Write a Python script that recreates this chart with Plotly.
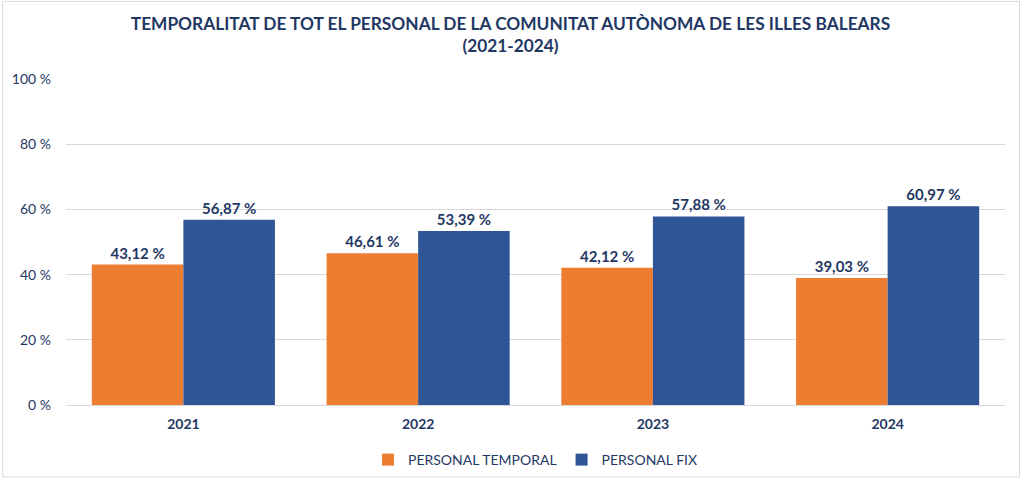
import plotly.graph_objects as go

years = ["2021", "2022", "2023", "2024"]
temporal = [43.12, 46.61, 42.12, 39.03]
fix = [56.87, 53.39, 57.88, 60.97]
y_ticks = [0, 20, 40, 60, 80, 100]

NAVY = "#1F3864"
FONT = "Lato, 'Open Sans', sans-serif"


def fmt(v):
    return f"{v:.2f}".replace(".", ",") + " %"


fig = go.Figure()
fig.add_trace(go.Bar(
    x=years, y=temporal, name="PERSONAL TEMPORAL",
    marker=dict(color="#ED7D31", line=dict(width=0)),
    text=[fmt(v) for v in temporal], textposition="outside",
    textfont=dict(color=NAVY, size=15, family=FONT, weight="bold"),
    cliponaxis=False,
))
fig.add_trace(go.Bar(
    x=years, y=fix, name="PERSONAL FIX",
    marker=dict(color="#2F5597", line=dict(width=0)),
    text=[fmt(v) for v in fix], textposition="outside",
    textfont=dict(color=NAVY, size=15, family=FONT, weight="bold"),
    cliponaxis=False,
))

W, H = 1021, 483
L, R, T, B = 64, 16, 79, 74
pw, ph = W - L - R, H - T - B

fig.update_layout(
    width=W, height=H,
    margin=dict(l=L, r=R, t=T, b=B),
    paper_bgcolor="white", plot_bgcolor="white",
    font=dict(family=FONT, color=NAVY, size=14),
    title=dict(
        text="<b>TEMPORALITAT DE TOT EL PERSONAL DE LA COMUNITAT AUTÒNOMA DE LES ILLES BALEARS<br>(2021-2024)</b>",
        x=0.5, xanchor="center", y=1 - 30 / H, yanchor="middle",
        font=dict(size=17.3, color=NAVY, family=FONT),
    ),
    barmode="group", bargap=0.22, bargroupgap=0,
    showlegend=True,
    legend=dict(
        orientation="h", x=0.5, xanchor="center",
        yref="container", y=1 - 460 / H, yanchor="middle",
        font=dict(size=14, color=NAVY), itemwidth=30, traceorder="normal",
    ),
    shapes=[dict(
        type="rect", xref="paper", yref="paper",
        x0=-(L - 0.5) / pw, x1=1 + (R - 1.5) / pw,
        y0=-(B - 1.5) / ph, y1=1 + (T - 0.5) / ph,
        line=dict(color="#D9D9D9", width=1), layer="below",
    )],
)
fig.update_xaxes(
    showline=True, linecolor="#D9D9D9", linewidth=1,
    tickfont=dict(size=14, color=NAVY, weight="bold"),
    ticks="", ticklabelstandoff=6,
)
fig.update_yaxes(
    range=[0, 100], tickvals=y_ticks, ticktext=[f"{v} %" for v in y_ticks],
    showgrid=True, gridcolor="#D9D9D9", gridwidth=1, zeroline=False,
    tickfont=dict(size=14, color=NAVY), ticks="", ticklabelstandoff=14,
)

fig.write_html(
    "out.html",
    config={"displayModeBar": False},
    post_script="document.body.style.margin='0';",
)
